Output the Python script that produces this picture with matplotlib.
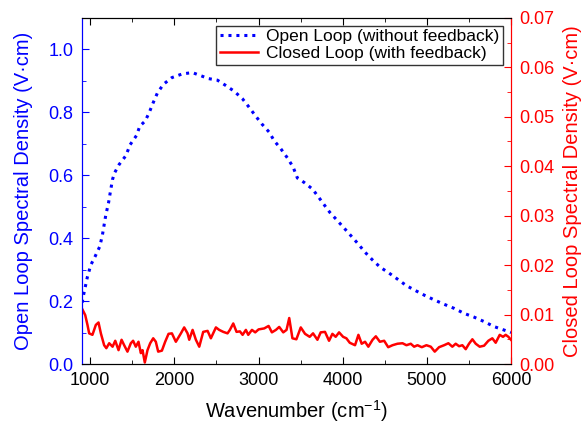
import matplotlib
matplotlib.use("Agg")
import matplotlib.pyplot as plt
from matplotlib.ticker import MultipleLocator

plt.rcParams['font.family'] = ['Liberation Sans', 'DejaVu Sans']
plt.rcParams['mathtext.default'] = 'regular'

# open loop (left axis)
wn_open = [905, 917, 968, 1008, 1059, 1115, 1146, 1186, 1218, 1238, 1265, 1289, 1344, 1424,
           1475, 1550, 1590, 1653, 1700, 1748, 1800, 1871, 1970, 2096, 2215, 2326, 2405,
           2512, 2611, 2710, 2809, 2888, 2960, 3039, 3126, 3185, 3265, 3343, 3411, 3462,
           3542, 3641, 3712, 3780, 3847, 3926, 4017, 4097, 4183, 4263, 4353, 4444, 4551,
           4650, 4757, 4868, 4975, 5086, 5204, 5323, 5442, 5561, 5679, 5798, 5917, 6000]
open_loop = [0.195, 0.214, 0.278, 0.315, 0.342, 0.374, 0.411, 0.474, 0.512, 0.544, 0.586,
             0.607, 0.634, 0.662, 0.697, 0.726, 0.756, 0.772, 0.798, 0.830, 0.862, 0.889,
             0.910, 0.922, 0.926, 0.915, 0.907, 0.902, 0.885, 0.867, 0.843, 0.816, 0.790,
             0.763, 0.737, 0.710, 0.684, 0.655, 0.626, 0.591, 0.577, 0.556, 0.531, 0.506,
             0.482, 0.459, 0.432, 0.408, 0.382, 0.356, 0.331, 0.308, 0.289, 0.270, 0.249,
             0.233, 0.218, 0.204, 0.190, 0.177, 0.161, 0.149, 0.135, 0.119, 0.108, 0.100]

# closed loop (right axis)
wn_closed = [900, 941, 968, 988, 1027, 1067, 1099, 1127, 1166, 1192, 1226, 1266, 1298, 1337,
             1373, 1404, 1443, 1483, 1510, 1542, 1574, 1602, 1622, 1649, 1681, 1713, 1749,
             1780, 1808, 1852, 1891, 1931, 1971, 2018, 2078, 2117, 2157, 2177, 2217, 2256,
             2296, 2343, 2395, 2434, 2494, 2533, 2581, 2632, 2660, 2700, 2739, 2779, 2811,
             2850, 2878, 2922, 2961, 3001, 3068, 3120, 3159, 3207, 3246, 3294, 3333, 3365,
             3403, 3450, 3502, 3553, 3608, 3648, 3700, 3739, 3790, 3838, 3878, 3917, 3957,
             4005, 4044, 4084, 4147, 4187, 4226, 4266, 4305, 4355, 4394, 4442, 4493, 4541,
             4592, 4651, 4711, 4758, 4809, 4849, 4889, 4940, 4995, 5047, 5094, 5145, 5205,
             5256, 5303, 5343, 5383, 5422, 5462, 5501, 5541, 5581, 5628, 5680, 5731, 5778,
             5818, 5866, 5905, 5937, 5969, 6000]
closed_loop = [0.0113, 0.0099, 0.0079, 0.0062, 0.0059, 0.0079, 0.0084, 0.0062, 0.0038, 0.0032,
               0.0042, 0.0035, 0.0047, 0.0028, 0.0049, 0.0038, 0.0025, 0.0042, 0.0047, 0.0035,
               0.0045, 0.0022, 0.0028, 0.0003, 0.0028, 0.0042, 0.0052, 0.0045, 0.0025, 0.0027,
               0.0045, 0.0061, 0.0062, 0.0045, 0.0062, 0.0074, 0.0062, 0.0049, 0.0069, 0.0049,
               0.0035, 0.0065, 0.0067, 0.0052, 0.0074, 0.0069, 0.0065, 0.0062, 0.0069, 0.0082,
               0.0065, 0.0066, 0.0059, 0.0069, 0.0059, 0.0069, 0.0064, 0.0070, 0.0072, 0.0077,
               0.0064, 0.0069, 0.0075, 0.0064, 0.0069, 0.0093, 0.0052, 0.0050, 0.0074, 0.0061,
               0.0055, 0.0062, 0.0049, 0.0064, 0.0065, 0.0047, 0.0061, 0.0055, 0.0064, 0.0055,
               0.0052, 0.0043, 0.0038, 0.0059, 0.0041, 0.0045, 0.0035, 0.0049, 0.0056, 0.0045,
               0.0047, 0.0034, 0.0038, 0.0041, 0.0042, 0.0038, 0.0041, 0.0035, 0.0038, 0.0034,
               0.0038, 0.0035, 0.0025, 0.0034, 0.0038, 0.0042, 0.0035, 0.0041, 0.0036, 0.0038,
               0.0030, 0.0041, 0.0050, 0.0041, 0.0035, 0.0037, 0.0047, 0.0052, 0.0043, 0.0059,
               0.0055, 0.0059, 0.0055, 0.0049]

blue = '#0000ff'
red = '#ff0000'

fig = plt.figure(figsize=(5.84, 4.25), dpi=100)
ax = fig.add_axes([0.140, 0.1435, 0.735, 0.8145])
ax2 = ax.twinx()

l1, = ax.plot(wn_open, open_loop, color=blue, lw=2.2, linestyle=(0, (1, 1.6)),
              label='Open Loop (without feedback)')
l2, = ax2.plot(wn_closed, closed_loop, color=red, lw=1.8,
               label='Closed Loop (with feedback)')

ax.set_xlim(900, 6000)
ax.set_ylim(0, 1.1)
ax2.set_ylim(0, 0.07)

ax.xaxis.set_major_locator(MultipleLocator(1000))
ax.xaxis.set_minor_locator(MultipleLocator(500))
ax.yaxis.set_major_locator(MultipleLocator(0.2))
ax.yaxis.set_minor_locator(MultipleLocator(0.1))
ax2.yaxis.set_major_locator(MultipleLocator(0.01))
ax2.yaxis.set_minor_locator(MultipleLocator(0.005))

ax.tick_params(axis='x', which='both', direction='in', top=True, labelsize=13, pad=6)
ax.tick_params(axis='x', which='major', length=5)
ax.tick_params(axis='x', which='minor', length=3)
ax.tick_params(axis='y', which='both', direction='in', colors=blue, labelsize=13, pad=6)
ax.tick_params(axis='y', which='major', length=5)
ax.tick_params(axis='y', which='minor', length=3)
ax2.tick_params(axis='y', which='both', direction='in', colors=red, labelsize=13, pad=6)
ax2.tick_params(axis='y', which='major', length=5)
ax2.tick_params(axis='y', which='minor', length=3)
ax.yaxis.set_major_formatter(plt.FuncFormatter(lambda v, p: '%.1f' % v))
ax2.yaxis.set_major_formatter(plt.FuncFormatter(lambda v, p: '%.2f' % v))

ax.spines['left'].set_color(blue)
ax2.spines['left'].set_color(blue)
ax2.spines['right'].set_color(red)
ax.spines['right'].set_color(red)

ax.set_xlabel('Wavenumber (cm$^{-1}$)', fontsize=14.5, labelpad=6)
ax.set_ylabel('Open Loop Spectral Density (V·cm)', color=blue, fontsize=14.5, labelpad=11)
ax2.set_ylabel('Closed Loop Spectral Density (V·cm)', color=red, fontsize=14.5, labelpad=6)

leg = ax2.legend(handles=[l1, l2], loc='upper right', fontsize=12.5, fancybox=False,
                 edgecolor='black', handlelength=2.2, borderaxespad=0.45,
                 borderpad=0.2, labelspacing=0.1, handletextpad=0.5)
leg.get_frame().set_linewidth(1.0)

fig.savefig('out.png', dpi=100)
